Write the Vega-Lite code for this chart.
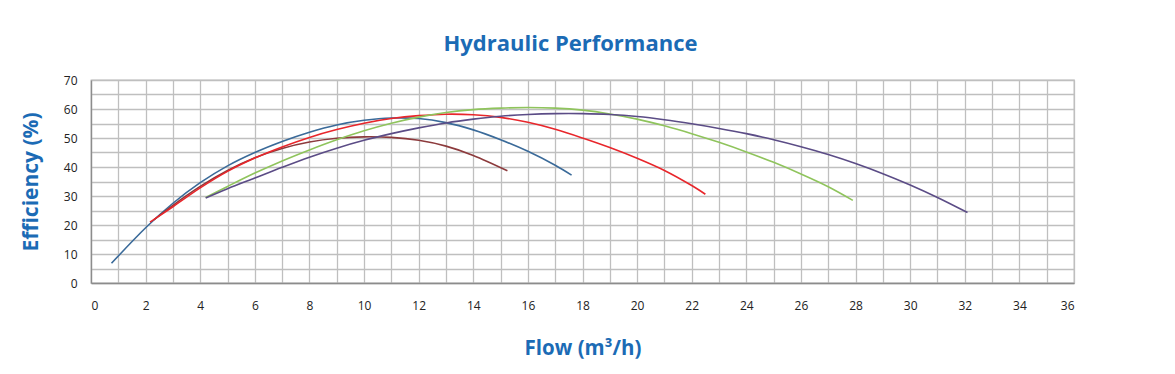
{
  "$schema": "https://vega.github.io/schema/vega-lite/v6.json",
  "autosize": {"type": "none"},
  "padding": {"left": 91, "top": 80, "right": 101, "bottom": 91},
  "width": 983,
  "height": 203,
  "background": "white",
  "title": {
    "text": "Hydraulic Performance",
    "font": "Open Sans",
    "fontSize": 22,
    "fontWeight": "bold",
    "color": "#1b6bb5",
    "anchor": "middle",
    "dx": -12,
    "offset": 18
  },
  "config": {
    "view": {"stroke": "#bfbfbf", "strokeWidth": 1.3},
    "axis": {
      "labelFont": "Liberation Sans Narrow, Open Sans, sans-serif",
      "labelFontSize": 12,
      "labelColor": "#222222",
      "titleFont": "Open Sans",
      "titleFontSize": 21,
      "titleFontWeight": "bold",
      "titleColor": "#1b6bb5",
      "gridColor": "#bfbfbf",
      "gridWidth": 1.3,
      "gridOpacity": 1,
      "domainColor": "#8c8c8c",
      "domainWidth": 1.3,
      "ticks": false
    }
  },
  "data": {
    "values": [
      {"s": "A", "q": 0.75, "e": 6.8}, {"s": "A", "q": 2.04, "e": 19.4}, {"s": "A", "q": 3.0, "e": 27.5}, {"s": "A", "q": 4.0, "e": 34.6}, {"s": "A", "q": 5.0, "e": 40.4}, {"s": "A", "q": 6.0, "e": 45.0}, {"s": "A", "q": 7.0, "e": 48.8}, {"s": "A", "q": 8.0, "e": 52.0}, {"s": "A", "q": 9.0, "e": 54.5}, {"s": "A", "q": 10.0, "e": 56.1}, {"s": "A", "q": 11.0, "e": 56.9}, {"s": "A", "q": 12.0, "e": 56.7}, {"s": "A", "q": 13.0, "e": 55.3}, {"s": "A", "q": 14.0, "e": 52.8}, {"s": "A", "q": 15.0, "e": 49.4}, {"s": "A", "q": 16.0, "e": 45.4}, {"s": "A", "q": 17.0, "e": 40.6}, {"s": "A", "q": 17.6, "e": 37.2},
      {"s": "B", "q": 2.3, "e": 21.8}, {"s": "B", "q": 3.0, "e": 26.8}, {"s": "B", "q": 4.0, "e": 33.3}, {"s": "B", "q": 5.0, "e": 38.8}, {"s": "B", "q": 6.0, "e": 43.2}, {"s": "B", "q": 7.0, "e": 46.4}, {"s": "B", "q": 8.0, "e": 48.6}, {"s": "B", "q": 9.0, "e": 49.9}, {"s": "B", "q": 10.0, "e": 50.4}, {"s": "B", "q": 11.0, "e": 50.2}, {"s": "B", "q": 12.0, "e": 49.2}, {"s": "B", "q": 13.0, "e": 47.2}, {"s": "B", "q": 14.0, "e": 44.0}, {"s": "B", "q": 15.25, "e": 38.7},
      {"s": "C", "q": 2.16, "e": 21.0}, {"s": "C", "q": 3.0, "e": 26.3}, {"s": "C", "q": 4.0, "e": 32.8}, {"s": "C", "q": 5.0, "e": 38.5}, {"s": "C", "q": 6.0, "e": 43.1}, {"s": "C", "q": 7.0, "e": 46.9}, {"s": "C", "q": 8.0, "e": 50.2}, {"s": "C", "q": 9.0, "e": 52.9}, {"s": "C", "q": 10.0, "e": 55.1}, {"s": "C", "q": 11.0, "e": 56.7}, {"s": "C", "q": 12.0, "e": 57.7}, {"s": "C", "q": 13.0, "e": 58.2}, {"s": "C", "q": 14.0, "e": 58.0}, {"s": "C", "q": 15.0, "e": 57.1}, {"s": "C", "q": 16.0, "e": 55.4}, {"s": "C", "q": 17.0, "e": 53.0}, {"s": "C", "q": 18.0, "e": 50.0}, {"s": "C", "q": 19.0, "e": 46.7}, {"s": "C", "q": 20.0, "e": 43.0}, {"s": "C", "q": 21.0, "e": 38.8}, {"s": "C", "q": 22.0, "e": 33.6}, {"s": "C", "q": 22.5, "e": 30.6},
      {"s": "D", "q": 4.2, "e": 29.5}, {"s": "D", "q": 5.0, "e": 33.3}, {"s": "D", "q": 6.0, "e": 37.9}, {"s": "D", "q": 7.0, "e": 42.1}, {"s": "D", "q": 8.0, "e": 45.9}, {"s": "D", "q": 9.0, "e": 49.4}, {"s": "D", "q": 10.0, "e": 52.5}, {"s": "D", "q": 11.0, "e": 55.1}, {"s": "D", "q": 12.0, "e": 57.2}, {"s": "D", "q": 13.0, "e": 58.8}, {"s": "D", "q": 14.0, "e": 59.8}, {"s": "D", "q": 15.0, "e": 60.3}, {"s": "D", "q": 16.0, "e": 60.5}, {"s": "D", "q": 17.0, "e": 60.3}, {"s": "D", "q": 18.0, "e": 59.6}, {"s": "D", "q": 19.0, "e": 58.3}, {"s": "D", "q": 20.0, "e": 56.5}, {"s": "D", "q": 21.0, "e": 54.2}, {"s": "D", "q": 22.0, "e": 51.5}, {"s": "D", "q": 23.0, "e": 48.5}, {"s": "D", "q": 24.0, "e": 45.2}, {"s": "D", "q": 25.0, "e": 41.6}, {"s": "D", "q": 26.0, "e": 37.6}, {"s": "D", "q": 27.0, "e": 33.2}, {"s": "D", "q": 27.9, "e": 28.5},
      {"s": "E", "q": 4.2, "e": 29.3}, {"s": "E", "q": 5.0, "e": 32.5}, {"s": "E", "q": 6.0, "e": 36.2}, {"s": "E", "q": 7.0, "e": 39.9}, {"s": "E", "q": 8.0, "e": 43.4}, {"s": "E", "q": 9.0, "e": 46.5}, {"s": "E", "q": 10.0, "e": 49.2}, {"s": "E", "q": 11.0, "e": 51.5}, {"s": "E", "q": 12.0, "e": 53.5}, {"s": "E", "q": 13.0, "e": 55.2}, {"s": "E", "q": 14.0, "e": 56.5}, {"s": "E", "q": 15.0, "e": 57.5}, {"s": "E", "q": 16.0, "e": 58.1}, {"s": "E", "q": 17.0, "e": 58.4}, {"s": "E", "q": 18.0, "e": 58.4}, {"s": "E", "q": 19.0, "e": 58.1}, {"s": "E", "q": 20.0, "e": 57.4}, {"s": "E", "q": 21.0, "e": 56.3}, {"s": "E", "q": 22.0, "e": 54.9}, {"s": "E", "q": 23.0, "e": 53.3}, {"s": "E", "q": 24.0, "e": 51.5}, {"s": "E", "q": 25.0, "e": 49.4}, {"s": "E", "q": 26.0, "e": 47.0}, {"s": "E", "q": 27.0, "e": 44.3}, {"s": "E", "q": 28.0, "e": 41.2}, {"s": "E", "q": 29.0, "e": 37.7}, {"s": "E", "q": 30.0, "e": 33.8}, {"s": "E", "q": 31.0, "e": 29.5}, {"s": "E", "q": 32.1, "e": 24.3}
    ]
  },
  "mark": {"type": "line", "interpolate": "catmull-rom", "strokeWidth": 1.6},
  "encoding": {
    "x": {
      "field": "q",
      "type": "quantitative",
      "scale": {"domain": [0, 36], "nice": false},
      "axis": {
        "title": "Flow (m³/h)",
        "titleFontSize": 20.5,
        "values": [0,1,2,3,4,5,6,7,8,9,10,11,12,13,14,15,16,17,18,19,20,21,22,23,24,25,26,27,28,29,30,31,32,33,34,35,36],
        "labelExpr": "datum.value % 2 === 0 ? datum.label : ''",
        "labelPadding": 17,
        "titlePadding": 27
      }
    },
    "y": {
      "field": "e",
      "type": "quantitative",
      "scale": {"domain": [0, 70], "nice": false},
      "axis": {
        "title": "Efficiency (%)",
        "values": [0,5,10,15,20,25,30,35,40,45,50,55,60,65,70],
        "labelExpr": "datum.value % 10 === 0 ? datum.label : ''",
        "labelPadding": 14,
        "titlePadding": 22
      }
    },
    "color": {
      "field": "s",
      "type": "nominal",
      "legend": null,
      "scale": {
        "domain": ["A", "B", "C", "D", "E"],
        "range": ["#3a6a99", "#8c3a3c", "#e8262b", "#8fc45c", "#5b4c86"]
      }
    },
    "order": {"field": "q", "type": "quantitative"}
  }
}
